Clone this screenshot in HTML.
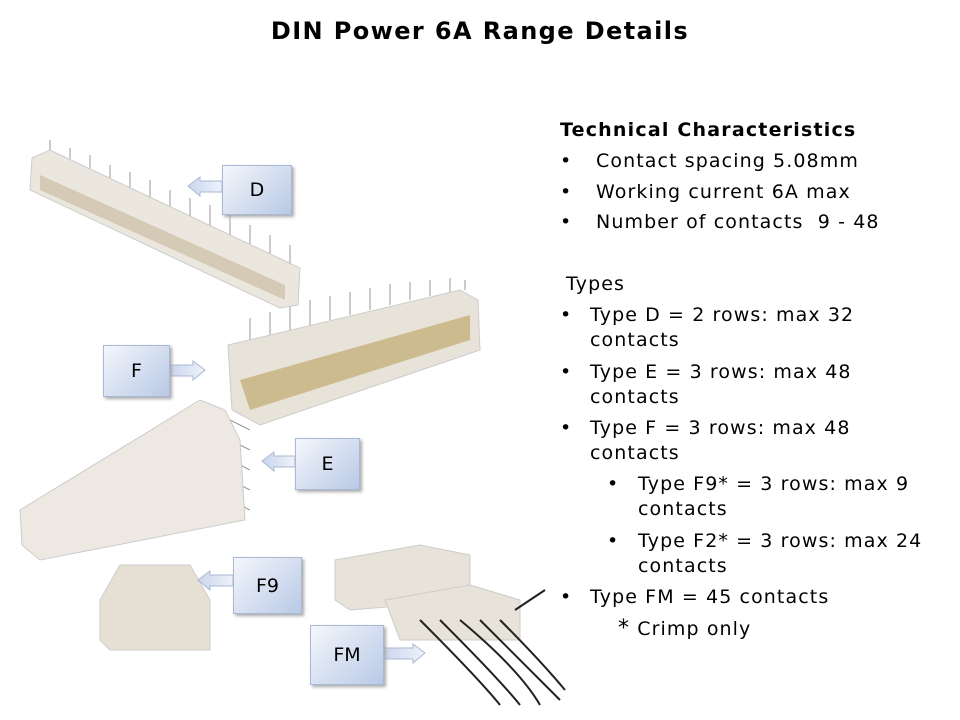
<!DOCTYPE html>
<html><head><style>
body{margin:0;width:960px;height:720px;background:#fff;position:relative;overflow:hidden;font-family:"DejaVu Sans","Liberation Sans",sans-serif;}
.t{position:absolute;color:#000;white-space:nowrap;}
.box{position:absolute;background:linear-gradient(135deg,#f4f7fc,#b9c9e6);border:1px solid #a9b8d4;box-shadow:2px 2px 3px #aaa;font-size:19px;display:flex;align-items:center;justify-content:center;}
.r{font-size:19px;line-height:25px;letter-spacing:1.1px;}
</style></head><body>
<div class="t" style="left:0;width:960px;top:17px;text-align:center;font-size:24px;font-weight:bold;letter-spacing:1.4px;">DIN Power 6A Range Details</div>
<svg width="960" height="720" style="position:absolute;left:0;top:0">
<defs><linearGradient id="a" x1="0" x2="1"><stop offset="0" stop-color="#c9d6ee"/><stop offset="1" stop-color="#eef2fa"/></linearGradient></defs>
<g stroke="#999" stroke-width="1">
<path d="M50,160 L50,140 M70,170 L70,148 M90,180 L90,155 M110,190 L110,165 M130,200 L130,172 M150,208 L150,180 M170,218 L170,190 M190,228 L190,198 M210,238 L210,205 M230,248 L230,215 M250,256 L250,225 M270,266 L270,235 M290,275 L290,245"/>
<path d="M250,340 L250,318 M270,335 L270,312 M290,330 L290,306 M310,325 L310,300 M330,320 L330,296 M350,315 L350,292 M370,310 L370,288 M390,305 L390,284 M410,300 L410,282 M430,296 L430,280 M450,292 L450,278 M465,290 L465,280"/>
<path d="M230,420 L250,430 M230,440 L250,450 M230,460 L250,470 M230,480 L250,490 M230,500 L250,510"/>
</g>
<polygon points="32,158 50,150 300,268 298,305 280,308 30,190" fill="#ebe7df" stroke="#ccc"/>
<polygon points="40,190 285,300 285,285 40,175" fill="#d4cab5"/>
<polygon points="228,345 460,290 478,300 480,350 260,425 232,410" fill="#e8e3d9" stroke="#ccc"/>
<polygon points="240,380 470,315 470,340 250,410" fill="#cdbb90"/>
<polygon points="20,510 200,400 225,410 240,440 245,520 40,560 22,545" fill="#ede9e2" stroke="#ccc"/>
<polygon points="100,600 120,565 190,565 210,600 210,650 110,650 100,640" fill="#e6e0d4" stroke="#ccc"/>
<polygon points="335,560 420,545 470,555 470,600 350,610 335,600" fill="#e8e3d9" stroke="#ccc"/>
<polygon points="385,600 470,585 520,600 520,640 400,640" fill="#e8e3d9" stroke="#ccc"/>
<g stroke="#222" stroke-width="2" fill="none">
<path d="M420,620 Q480,680 500,705"/><path d="M440,620 Q500,680 520,705"/><path d="M460,620 Q520,670 540,705"/><path d="M480,620 Q530,670 560,700"/><path d="M500,620 Q540,660 565,690"/><path d="M515,610 Q530,600 545,590"/>
</g>
<polygon points="188,186 200,177 200,181 222,181 222,192 200,192 200,196" fill="url(#a)" stroke="#a9b8d4"/>
<polygon points="205,370 193,361 193,365 168,365 168,376 193,376 193,380" fill="url(#a)" stroke="#a9b8d4"/>
<polygon points="262,461 274,452 274,456 295,456 295,467 274,467 274,471" fill="url(#a)" stroke="#a9b8d4"/>
<polygon points="198,580 210,571 210,575 233,575 233,586 210,586 210,590" fill="url(#a)" stroke="#a9b8d4"/>
<polygon points="425,653 413,644 413,648 382,648 382,659 413,659 413,663" fill="url(#a)" stroke="#a9b8d4"/>
</svg>
<div class="box" style="left:222px;top:165px;width:68px;height:48px;">D</div>
<div class="box" style="left:103px;top:345px;width:65px;height:50px;">F</div>
<div class="box" style="left:295px;top:438px;width:63px;height:50px;">E</div>
<div class="box" style="left:233px;top:557px;width:67px;height:55px;">F9</div>
<div class="box" style="left:310px;top:625px;width:72px;height:58px;">FM</div>

<div class="t r" style="left:560px;top:118px;font-weight:bold;letter-spacing:1.2px;">Technical Characteristics</div>
<div class="t r" style="left:560px;top:149px;">•</div><div class="t r" style="left:596px;top:149px;">Contact spacing 5.08mm</div>
<div class="t r" style="left:560px;top:180px;">•</div><div class="t r" style="left:596px;top:180px;">Working current 6A max</div>
<div class="t r" style="left:560px;top:210px;">•</div><div class="t r" style="left:596px;top:210px;">Number of contacts&nbsp; 9 - 48</div>
<div class="t r" style="left:566px;top:272px;">Types</div>
<div class="t r" style="left:560px;top:303px;">•</div><div class="t r" style="left:590px;top:303px;">Type D = 2 rows: max 32<br>contacts</div>
<div class="t r" style="left:560px;top:360px;">•</div><div class="t r" style="left:590px;top:360px;">Type E = 3 rows: max 48<br>contacts</div>
<div class="t r" style="left:560px;top:416px;">•</div><div class="t r" style="left:590px;top:416px;">Type F = 3 rows: max 48<br>contacts</div>
<div class="t r" style="left:607px;top:472px;">•</div><div class="t r" style="left:638px;top:472px;">Type F9* = 3 rows: max 9<br>contacts</div>
<div class="t r" style="left:607px;top:529px;">•</div><div class="t r" style="left:638px;top:529px;">Type F2* = 3 rows: max 24<br>contacts</div>
<div class="t r" style="left:560px;top:585px;">•</div><div class="t r" style="left:590px;top:585px;">Type FM = 45 contacts</div>
<div class="t r" style="left:618px;top:616px;"><span style="font-size:22px">*</span> Crimp only</div>
</body></html>
